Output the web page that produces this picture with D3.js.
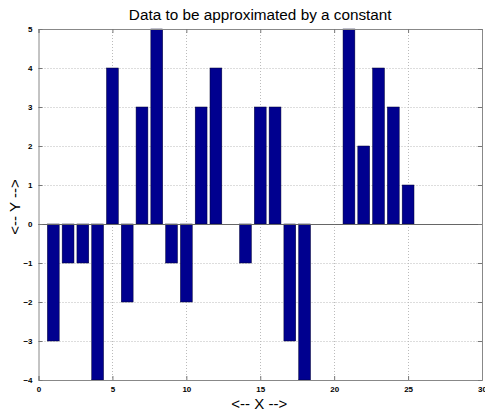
<!DOCTYPE html>
<html>
<head>
<meta charset="utf-8">
<script src="https://cdn.jsdelivr.net/npm/d3@7"></script>
<style>
  body { margin: 0; background: #fff; }
  text { font-family: "Liberation Sans", Arial, sans-serif; }
</style>
</head>
<body>
<svg id="chart" width="485" height="412"></svg>
<script>
// values
var xs = [1, 2, 3, 4, 5, 6, 7, 8, 9, 10, 11, 12, 13, 14, 15, 16, 17, 18, 19, 20, 21, 22, 23, 24, 25];
var ys = [-3, -1, -1, -4, 4, -2, 3, 5, -1, -2, 3, 4, 0, -1, 3, 3, -3, -4, 0, 0, 5, 2, 4, 3, 1];
var xTicks = [0, 5, 10, 15, 20, 25, 30];
var yTicks = [-4, -3, -2, -1, 0, 1, 2, 3, 4, 5];

var margin = {left: 38.5, right: 3, top: 29, bottom: 32};
var W = 485, H = 412;
var svg = d3.select("#chart");

var x = d3.scaleLinear().domain([0, 30]).range([margin.left, W - margin.right]);
var y = d3.scaleLinear().domain([-4, 5]).range([H - margin.bottom, margin.top]);

// grid
var grid = svg.append("g").attr("stroke", "#bbb").attr("stroke-width", 1).attr("stroke-dasharray", "1,2");
grid.selectAll("line.gx").data(xTicks.slice(1, -1)).enter().append("line")
  .attr("x1", function(d){return Math.round(x(d)) + 0.5;})
  .attr("x2", function(d){return Math.round(x(d)) + 0.5;})
  .attr("y1", y(5)).attr("y2", y(-4));
grid.selectAll("line.gy").data(yTicks.slice(1, -1)).enter().append("line")
  .attr("y1", function(d){return Math.round(y(d)) + 0.5;})
  .attr("y2", function(d){return Math.round(y(d)) + 0.5;})
  .attr("x1", x(0)).attr("x2", x(30));

// bars (zero-height bars are skipped, only the zero line shows there)
var bw = 0.8;
var bars = xs.map(function(d, i){return {x: d, y: ys[i]};}).filter(function(d){return d.y !== 0;});
svg.append("g").selectAll("rect").data(bars).enter().append("rect")
  .attr("x", function(d){return x(d.x - bw / 2);})
  .attr("width", x(bw) - x(0))
  .attr("y", function(d){return y(Math.max(0, d.y));})
  .attr("height", function(d){return Math.abs(y(d.y) - y(0));})
  .attr("fill", "#00008f")
  .attr("stroke", "#000033").attr("stroke-width", 0.5);

// zero line
svg.append("line")
  .attr("x1", x(0)).attr("x2", x(30))
  .attr("y1", Math.round(y(0)) + 0.5).attr("y2", Math.round(y(0)) + 0.5)
  .attr("stroke", "#666").attr("stroke-width", 1);

// axes
var axB = d3.axisBottom(x).tickValues(xTicks).tickSize(-4).tickPadding(6);
var axT = d3.axisTop(x).tickValues(xTicks).tickSize(-4).tickFormat("");
var axL = d3.axisLeft(y).tickValues(yTicks).tickSize(-4).tickPadding(6);
var axR = d3.axisRight(y).tickValues(yTicks).tickSize(-4).tickFormat("");

function styleAxis(g){
  g.selectAll("path, line").attr("stroke", "#777");
  g.selectAll("text").attr("font-size", "8px").attr("fill", "#000").attr("font-weight", "bold");
}
svg.append("g").attr("transform", "translate(0," + y(-4) + ")").call(axB).call(styleAxis);
svg.append("g").attr("transform", "translate(0," + y(5) + ")").call(axT).call(styleAxis);
svg.append("g").attr("transform", "translate(" + x(0) + ",0)").call(axL).call(styleAxis);
svg.append("g").attr("transform", "translate(" + x(30) + ",0)").call(axR).call(styleAxis);
svg.selectAll(".domain").attr("stroke", "#888");

// labels
svg.append("text").attr("x", (x(0) + x(30)) / 2).attr("y", 20)
  .attr("text-anchor", "middle").attr("font-size", "15.3px").text("Data to be approximated by a constant");
svg.append("text").attr("x", (x(0) + x(30)) / 2 - 1).attr("y", 409)
  .attr("text-anchor", "middle").attr("font-size", "15px").text("<-- X -->");
svg.append("text").attr("transform", "translate(20,207) rotate(-90)")
  .attr("text-anchor", "middle").attr("font-size", "15px").text("<-- Y -->");
</script>
</body>
</html>
